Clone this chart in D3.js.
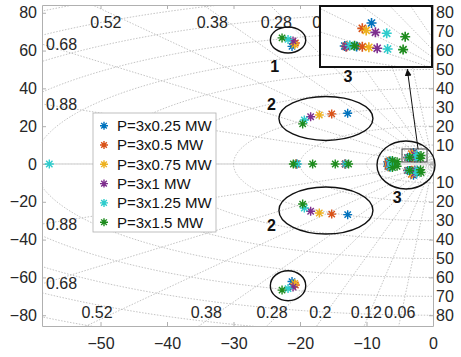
<!DOCTYPE html>
<html>
<head>
<meta charset="utf-8">
<script src="https://cdn.jsdelivr.net/npm/d3@7"></script>
<style>
  body { margin: 0; background: #fff; }
  text { font-family: "Liberation Sans", Arial, sans-serif; }
</style>
</head>
<body>
<div id="chart"></div>
<script>
// legend names and colours of the six power levels
const seriesNames = ["P=3x0.25 MW", "P=3x0.5 MW", "P=3x0.75 MW", "P=3x1 MW", "P=3x1.25 MW", "P=3x1.5 MW"];
const seriesColors = ["#0072BD", "#D95319", "#EDB120", "#7E2F8E", "#2ECCCC", "#1E8C1E"];

// poles on the real axis, per series
const realPoles = [
  [-20.6, -13.2],
  [-20.6, -13.2],
  [-20.6, -13.2],
  [-20.5, -13.2],
  [-57.7, -20.4, -13.1],
  [-21.0, -18.1, -14.7, -12.7]
];
// complex pole pairs (upper half shown, conjugate drawn too), per series
const modeOne = [[-21.2, 62.2], [-20.7, 64.0], [-20.8, 63.2], [-21.05, 65.1], [-21.8, 65.9], [-22.7, 66.7]];
const modeTwo = [[-12.83, 26.8], [-15.23, 26.5], [-17.1, 25.9], [-18.4, 25.0], [-19.35, 23.3], [-19.6, 21.2]];
const modeThreeA = [[-2.93, 6.02], [-3.24, 5.42], [-3.11, 5.18], [-2.80, 4.97], [-2.42, 4.86], [-1.80, 4.48]];
const modeThreeB = [[-3.83, 3.43], [-3.76, 3.40], [-3.79, 3.38], [-3.78, 3.38], [-3.66, 3.49], [-3.50, 3.45]];
const modeThreeC = [[-3.43, 3.38], [-3.24, 3.35], [-3.02, 3.28], [-2.74, 3.17], [-2.39, 3.09], [-1.87, 3.02]];
const modeFour = [[-6.8, 1.2], [-6.7, 1.4], [-6.6, 1.5], [-6.5, 1.6], [-6.4, 1.7], [-6.1, 1.9]];
const modeFive = [[-6.7, 0.4], [-6.6, 0.5], [-6.5, 0.5], [-6.4, 0.6], [-6.2, 0.7], [-5.4, 1.2]];

// axis ticks and grid values
const xTicks = [-50, -40, -30, -20, -10, 0];
const yTicks = [-80, -60, -40, -20, 0, 20, 40, 60, 80];
const zetas = [0.06, 0.12, 0.2, 0.28, 0.38, 0.52, 0.68, 0.88];
const zetaLabels = ["0.06", "0.12", "0.2", "0.28", "0.38", "0.52", "0.68", "0.88"];
const wnCircles = [10, 20, 30, 40, 50, 60, 70, 80, 90, 100, 110];
const wnLabels = [10, 20, 30, 40, 50, 60, 70, 80];

// zoomed window
const zoomX = [-4.66, -0.9];
const zoomY = [1.06, 7.94];

const W = 461, H = 357;
const margin = { top: 5, right: 28, bottom: 31, left: 42 };

const svg = d3.select("#chart").append("svg")
  .attr("width", W).attr("height", H);

const x = d3.scaleLinear().domain([-58.8, 0]).range([margin.left, W - margin.right]);
const y = d3.scaleLinear().domain([-85.7, 84.1]).range([H - margin.bottom, margin.top]);

svg.append("clipPath").attr("id", "plotclip")
  .append("rect")
  .attr("x", x.range()[0]).attr("y", y.range()[1])
  .attr("width", x.range()[1] - x.range()[0])
  .attr("height", y.range()[0] - y.range()[1]);

// all poles of one series, conjugates included
function polesOf(i) {
  const pts = realPoles[i].map(r => [r, 0]);
  [modeOne, modeTwo, modeThreeA, modeThreeB, modeThreeC, modeFour, modeFive].forEach(m => {
    pts.push([m[i][0], m[i][1]]);
    pts.push([m[i][0], -m[i][1]]);
  });
  return pts;
}

// asterisk marker like matlab '*'
function star(r) {
  const a = r * 0.7071;
  return `M${-r},0H${r}M0,${-r}V${r}M${-a},${-a}L${a},${a}M${-a},${a}L${a},${-a}`;
}

// damping / natural-frequency grid
function drawGrid(g, sx, sy) {
  const gridStyle = s => s.attr("fill", "none").attr("stroke", "#b5b5b5")
    .attr("stroke-width", 0.8).attr("stroke-dasharray", "1.5,1.5");
  zetas.concat([1]).forEach(z => {
    const t = Math.acos(z), R = 300;
    g.append("path")
      .attr("d", `M${sx(-R * Math.cos(t))},${sy(R * Math.sin(t))}L${sx(0)},${sy(0)}L${sx(-R * Math.cos(t))},${sy(-R * Math.sin(t))}`)
      .call(gridStyle);
  });
  const angles = d3.range(90, 270.5, 1).map(a => a * Math.PI / 180);
  wnCircles.forEach(w => {
    g.append("path")
      .attr("d", d3.line()(angles.map(a => [sx(w * Math.cos(a)), sy(w * Math.sin(a))])))
      .call(gridStyle);
  });
}

const grid = svg.append("g").attr("clip-path", "url(#plotclip)");
drawGrid(grid, x, y);

// damping labels
const labels = svg.append("g").attr("font-size", 16).attr("fill", "#262626");
zetas.forEach((z, i) => {
  const slope = Math.tan(Math.acos(z));
  const xLeft = x.domain()[0];
  if (-xLeft * slope < y.domain()[1] - 3) {
    [1, -1].forEach(s => {
      labels.append("text")
        .attr("x", x(xLeft) + 4)
        .attr("y", y(s * -xLeft * slope))
        .attr("dy", "0.35em")
        .text(zetaLabels[i]);
    });
  } else {
    const yt = 80.8, yb = -83;
    labels.append("text")
      .attr("x", x(-yt / slope)).attr("y", y(yt))
      .attr("dy", "1.05em").attr("text-anchor", "middle")
      .text(zetaLabels[i]);
    labels.append("text")
      .attr("x", x(yb / slope)).attr("y", y(yb))
      .attr("dy", "-0.2em").attr("text-anchor", "middle")
      .text(zetaLabels[i]);
  }
});

// natural frequency labels on the right
wnLabels.forEach(w => {
  [1, -1].forEach(s => {
    svg.append("text")
      .attr("x", x(0) + 3).attr("y", y(s * w))
      .attr("dy", "0.35em").attr("font-size", 16).attr("fill", "#262626")
      .text(w);
  });
});

// axes, matlab style with inward ticks on all sides
const axisColor = "#b0b0b0";
function styleAxis(g) {
  g.selectAll("path.domain").attr("stroke", axisColor);
  g.selectAll(".tick line").attr("stroke", axisColor);
  g.selectAll(".tick text").attr("fill", "#262626").style("font-size", "16px")
    .style("font-family", "'Liberation Sans', Arial, sans-serif");
}
svg.append("g").attr("transform", `translate(0,${y.range()[0]})`)
  .call(d3.axisBottom(x).tickValues(xTicks).tickSize(-4).tickPadding(12).tickSizeOuter(0))
  .call(styleAxis);
svg.append("g").attr("transform", `translate(${x.range()[0]},0)`)
  .call(d3.axisLeft(y).tickValues(yTicks).tickSize(-4).tickPadding(5).tickSizeOuter(0))
  .call(styleAxis);
svg.append("g").attr("transform", `translate(0,${y.range()[1]})`)
  .call(d3.axisTop(x).tickValues(xTicks).tickSize(-4).tickFormat("").tickSizeOuter(0))
  .call(styleAxis);
svg.append("g").attr("transform", `translate(${x.range()[1]},0)`)
  .call(d3.axisRight(y).tickValues(yTicks).tickSize(-4).tickFormat("").tickSizeOuter(0))
  .call(styleAxis);

// poles
const marks = svg.append("g").attr("clip-path", "url(#plotclip)");
seriesNames.forEach((name, i) => {
  marks.selectAll(null).data(polesOf(i)).enter().append("path")
    .attr("transform", d => `translate(${x(d[0])},${y(d[1])})`)
    .attr("d", star(4.5))
    .attr("stroke", seriesColors[i]).attr("stroke-width", 1.4).attr("fill", "none");
});

// annotations: ellipses round the modes, numbers
const ann = svg.append("g");
const ellipses = [
  { cx: -21.8, cy: 65.6, rx: 17.7, ry: 13 },
  { cx: -21.8, cy: -64.4, rx: 17.7, ry: 15 },
  { cx: -16.1, cy: 24.1, rx: 47, ry: 22 },
  { cx: -16.1, cy: -24.6, rx: 47, ry: 23.5 },
  { cx: -4.06, cy: -0.5, rx: 29, ry: 24 }
];
ann.selectAll("ellipse").data(ellipses).enter().append("ellipse")
  .attr("cx", d => x(d.cx)).attr("cy", d => y(d.cy))
  .attr("rx", d => d.rx).attr("ry", d => d.ry)
  .attr("fill", "none").attr("stroke", "#111").attr("stroke-width", 1.4);

const numbers = [
  { t: "1", x: -23.8, y: 51.5 },
  { t: "2", x: -24.3, y: 31.7 },
  { t: "2", x: -24.3, y: -32.3 },
  { t: "3", x: -5.37, y: -17.6 },
  { t: "3", x: -12.8, y: 46.2 }
];
ann.selectAll("text").data(numbers).enter().append("text")
  .attr("x", d => x(d.x)).attr("y", d => y(d.y)).attr("dy", "0.36em")
  .attr("text-anchor", "middle").attr("font-size", 16).attr("font-weight", "bold")
  .attr("fill", "#111").text(d => d.t);

// small window around mode 3
ann.append("rect")
  .attr("x", x(zoomX[0])).attr("y", y(zoomY[1]))
  .attr("width", x(zoomX[1]) - x(zoomX[0])).attr("height", y(zoomY[0]) - y(zoomY[1]))
  .attr("fill", "none").attr("stroke", "#444").attr("stroke-width", 1);

// inset with the magnified window
const inset = { x0: 320, x1: 432, y0: 6, y1: 67 };
const ix = d3.scaleLinear().domain(zoomX).range([inset.x0, inset.x1]);
const iy = d3.scaleLinear().domain(zoomY).range([inset.y1, inset.y0]);
svg.append("clipPath").attr("id", "insetclip")
  .append("rect").attr("x", inset.x0).attr("y", inset.y0)
  .attr("width", inset.x1 - inset.x0).attr("height", inset.y1 - inset.y0);
svg.append("rect").attr("x", inset.x0).attr("y", inset.y0)
  .attr("width", inset.x1 - inset.x0).attr("height", inset.y1 - inset.y0)
  .attr("fill", "#fff");
const ig = svg.append("g").attr("clip-path", "url(#insetclip)");
drawGrid(ig, ix, iy);
seriesNames.forEach((name, i) => {
  ig.selectAll(null).data(polesOf(i)).enter().append("path")
    .attr("transform", d => `translate(${ix(d[0])},${iy(d[1])})`)
    .attr("d", star(5))
    .attr("stroke", seriesColors[i]).attr("stroke-width", 1.6).attr("fill", "none");
});
svg.append("rect").attr("x", inset.x0).attr("y", inset.y0)
  .attr("width", inset.x1 - inset.x0).attr("height", inset.y1 - inset.y0)
  .attr("fill", "none").attr("stroke", "#111").attr("stroke-width", 2);

// arrow from the window to the inset
svg.append("defs").append("marker")
  .attr("id", "head").attr("viewBox", "0 0 10 10").attr("refX", 10).attr("refY", 5)
  .attr("markerWidth", 7).attr("markerHeight", 7).attr("orient", "auto")
  .append("path").attr("d", "M0,0L10,5L0,10Z").attr("fill", "#111");
svg.append("line")
  .attr("x1", x(-2.25)).attr("y1", y(zoomY[1]))
  .attr("x2", ix(-1.73)).attr("y2", inset.y1 + 2)
  .attr("stroke", "#111").attr("stroke-width", 1).attr("marker-end", "url(#head)");

// legend
const lg = svg.append("g").attr("transform", "translate(93,113)");
lg.append("rect").attr("width", 123).attr("height", 119)
  .attr("fill", "#fff").attr("stroke", "#b0b0b0").attr("stroke-width", 0.8);
seriesNames.forEach((name, i) => {
  const row = lg.append("g").attr("transform", `translate(0,${12.7 + i * 19.3})`);
  row.append("path").attr("transform", "translate(11,0)").attr("d", star(4))
    .attr("stroke", seriesColors[i]).attr("stroke-width", 1.4).attr("fill", "none");
  row.append("text").attr("x", 24).attr("dy", "0.36em")
    .attr("font-size", 15).attr("fill", "#111").text(name);
});
</script>
</body>
</html>
